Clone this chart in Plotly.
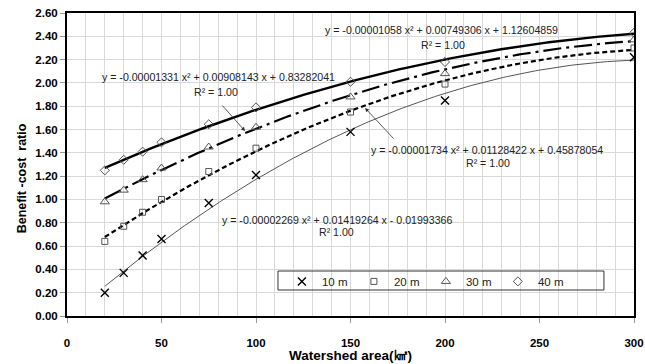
import numpy as np
import plotly.graph_objects as go

# ---- data ----
area = [20, 30, 40, 50, 75, 100, 150, 200, 300]
bc_10m = [0.20, 0.37, 0.52, 0.66, 0.97, 1.21, 1.58, 1.85, 2.22]
bc_20m = [0.64, 0.77, 0.89, 1.00, 1.24, 1.44, 1.75, 1.99, 2.30]
bc_30m = [0.98, 1.08, 1.17, 1.27, 1.45, 1.62, 1.88, 2.08, 2.37]
bc_40m = [1.25, 1.34, 1.41, 1.49, 1.645, 1.79, 2.01, 2.18, 2.43]

# trendline coefficients printed on the chart (a, b, c of a x^2 + b x + c)
coef_10m = [-0.00002269, 0.01419264, -0.01993366]
coef_20m = [-0.00001734, 0.01128422, 0.45878054]
coef_30m = [-0.00001331, 0.00908143, 0.83282041]
coef_40m = [-0.00001058, 0.00749306, 1.12604859]

eq_10m = "y = -0.00002269 x² + 0.01419264 x - 0.01993366"
eq_20m = "y = -0.00001734 x² + 0.01128422 x + 0.45878054"
eq_30m = "y = -0.00001331 x² + 0.00908143 x + 0.83282041"
eq_40m = "y = -0.00001058 x² + 0.00749306 x + 1.12604859"
r2_10m = "R² 1.00"
r2_other = "R² = 1.00"

series_names = ["10 m", "20 m", "30 m", "40 m"]

fig = go.Figure()

xs = np.linspace(min(area), max(area), 200)
line_styles = [
    dict(color="#555555", width=1, dash="solid"),
    dict(color="black", width=2.2, dash="5px,3px"),
    dict(color="black", width=2.2, dash="18px,5px,3px,5px"),
    dict(color="black", width=2.4, dash="solid"),
]
for coef, ls in zip([coef_10m, coef_20m, coef_30m, coef_40m], line_styles):
    fig.add_trace(go.Scatter(x=xs, y=np.polyval(coef, xs), mode="lines",
                             line=ls, showlegend=False, hoverinfo="skip"))

marker_styles = [
    dict(symbol="x-thin-open", size=8, color="black", line=dict(color="black", width=1.4)),
    dict(symbol="square-open", size=6, color="#555555", line=dict(color="#555555", width=1)),
    dict(symbol="triangle-up-open", size=8, color="#555555", line=dict(color="#555555", width=1)),
    dict(symbol="diamond-open", size=7, color="#555555", line=dict(color="#555555", width=1)),
]
for name, vals, ms in zip(series_names, [bc_10m, bc_20m, bc_30m, bc_40m], marker_styles):
    fig.add_trace(go.Scatter(x=area, y=vals, mode="markers", name=name, marker=ms))

eq_font = dict(family="Liberation Sans, sans-serif", size=10.6, color="#222222")
annos = [
    (198.4, 2.454, eq_40m), (199.0, 2.325, r2_other),
    (79.9, 2.05, eq_30m), (78.7, 1.92, r2_other),
    (222.1, 1.424, eq_20m), (222.5, 1.31, r2_other),
    (143.1, 0.824, eq_10m), (142.7, 0.718, r2_10m),
]
for x, y, t in annos:
    fig.add_annotation(x=x, y=y, text=t, showarrow=False, font=eq_font,
                       xanchor="center", yanchor="middle")

# leader arrows
fig.add_annotation(x=94.2, y=1.587, ax=81.5, ay=1.819, axref="x", ayref="y",
                   text="", showarrow=True, arrowhead=2, arrowsize=1,
                   arrowwidth=0.8, arrowcolor="#333333")
fig.add_annotation(x=157.7, y=1.785, ax=173.5, ay=1.510, axref="x", ayref="y",
                   text="", showarrow=True, arrowhead=2, arrowsize=1,
                   arrowwidth=0.8, arrowcolor="#333333")

title_font = dict(family="Liberation Sans, Arial, sans-serif", size=13.5, color="black", weight="bold")
fig.add_annotation(xref="paper", yref="paper", x=0.5, y=-0.132, text="Watershed area(㎢)",
                   showarrow=False, font=title_font, xanchor="center", yanchor="middle")
fig.add_annotation(xref="paper", yref="paper", x=-0.079, y=0.455, text="Benefit -cost  ratio",
                   showarrow=False, font=dict(title_font, size=12.5), textangle=-90,
                   xanchor="center", yanchor="middle")

# legend frame
fig.add_shape(type="rect", xref="paper", yref="paper", x0=0.3721, x1=0.947, y0=0.0858, y1=0.1485,
              line=dict(color="#333333", width=1), fillcolor="rgba(0,0,0,0)")

tick_font = dict(family="Liberation Sans, Arial, sans-serif", size=11.5, color="black", weight="bold")
grid_c = "#d9d9d9"
fig.update_xaxes(range=[0, 300], tick0=0, dtick=50, showgrid=True, gridcolor=grid_c, gridwidth=1,
                 minor=dict(dtick=10, showgrid=True, gridcolor=grid_c, gridwidth=1),
                 showline=True, linecolor="black", linewidth=2, mirror=True,
                 ticks="outside", ticklen=5, tickcolor="#999999", tickfont=tick_font,
                 ticklabelstandoff=10, zeroline=False, automargin=False)
fig.update_yaxes(range=[0, 2.6], tick0=0, dtick=0.2, tickformat=".2f", showgrid=True,
                 gridcolor=grid_c, gridwidth=1,
                 showline=True, linecolor="black", linewidth=2, mirror=True,
                 ticks="outside", ticklen=5, tickcolor="#999999", tickfont=tick_font,
                 zeroline=False, automargin=False)

fig.update_layout(
    width=645, height=364,
    margin=dict(l=67, r=11, t=13, b=48),
    plot_bgcolor="white", paper_bgcolor="white",
    font=dict(family="Liberation Sans, Arial, sans-serif", color="black"),
    legend=dict(orientation="h", x=0.379, y=0.162, xanchor="left", yanchor="top",
                bgcolor="rgba(0,0,0,0)", borderwidth=0,
                font=dict(size=11.5, color="#222222"),
                entrywidth=27, entrywidthmode="pixels"),
)

fig.write_html("out.html", config={"displayModeBar": False},
               post_script="document.body.style.margin='0';document.body.style.padding='0';")
